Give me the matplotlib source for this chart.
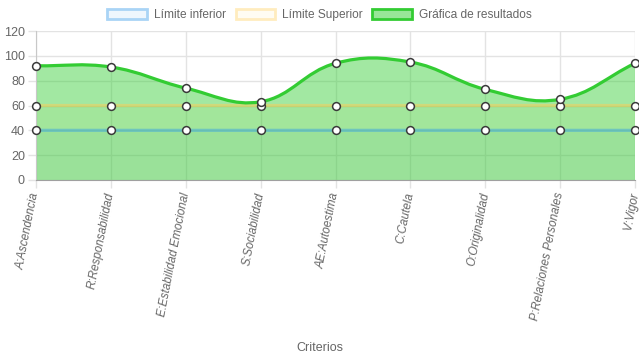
import numpy as np
import matplotlib.pyplot as plt
from matplotlib.path import Path
from matplotlib.patches import PathPatch, Patch

plt.rcParams['font.family'] = ['Liberation Sans', 'DejaVu Sans']

criterios = ["A:Ascendencia", "R:Responsabilidad", "E:Estabilidad Emocional",
             "S:Sociabilidad", "AE:Autoestima", "C:Cautela", "O:Originalidad",
             "P:Relaciones Personales", "V:Vigor"]
limite_inferior = [40, 40, 40, 40, 40, 40, 40, 40, 40]
limite_superior = [60, 60, 60, 60, 60, 60, 60, 60, 60]
resultados = [92, 91, 74, 63, 94, 95, 73, 65, 94]

TEXT = '#666666'


def spline_path(xs, ys, sx, sy, tension=0.4):
    """Chart.js style cubic bezier through the points (sx, sy = px per unit)."""
    px = np.asarray(xs, float) * sx
    py = np.asarray(ys, float) * sy
    n = len(px)
    cps = []
    for i in range(n):
        p = (px[max(i - 1, 0)], py[max(i - 1, 0)])
        c = (px[i], py[i])
        q = (px[min(i + 1, n - 1)], py[min(i + 1, n - 1)])
        d01 = np.hypot(c[0] - p[0], c[1] - p[1])
        d12 = np.hypot(q[0] - c[0], q[1] - c[1])
        tot = d01 + d12
        s01 = d01 / tot if tot else 0
        s12 = d12 / tot if tot else 0
        fa, fb = tension * s01, tension * s12
        prev_cp = (c[0] - fa * (q[0] - p[0]), c[1] - fa * (q[1] - p[1]))
        next_cp = (c[0] + fb * (q[0] - p[0]), c[1] + fb * (q[1] - p[1]))
        cps.append((prev_cp, next_cp))
    verts = [(px[0], py[0])]
    codes = [Path.MOVETO]
    for i in range(1, n):
        verts += [cps[i - 1][1], cps[i][0], (px[i], py[i])]
        codes += [Path.CURVE4] * 3
    verts = [(vx / sx, vy / sy) for vx, vy in verts]
    return verts, codes


fig = plt.figure(figsize=(6.39, 3.6), dpi=100)
ax = fig.add_axes([36 / 639, 0.5, 599 / 639, 149 / 360])
x = np.arange(len(criterios))
ax.set_xlim(0, len(criterios) - 1)
ax.set_ylim(0, 120)
sx, sy = 599 / 8, 149 / 120

series = [
    (limite_inferior, (54/255, 162/255, 235/255, 0.45), (54/255, 162/255, 235/255, 0.08)),
    (limite_superior, (255/255, 205/255, 86/255, 0.5), (255/255, 205/255, 86/255, 0.08)),
    (resultados, '#33cc33', (50/255, 205/255, 50/255, 0.45)),
]
for vals, line_c, fill_c in series:
    verts, codes = spline_path(x, vals, sx, sy)
    fill_verts = verts + [(x[-1], 0), (x[0], 0), verts[0]]
    fill_codes = codes + [Path.LINETO, Path.LINETO, Path.CLOSEPOLY]
    ax.add_patch(PathPatch(Path(fill_verts, fill_codes), facecolor=fill_c,
                           edgecolor='none', zorder=1))
for vals, line_c, fill_c in series:
    verts, codes = spline_path(x, vals, sx, sy)
    ax.add_patch(PathPatch(Path(verts, codes), facecolor='none',
                           edgecolor=line_c, lw=2.3, zorder=3,
                           capstyle='butt'))
for vals, line_c, fill_c in series:
    ax.plot(x, vals, ls='none', marker='o', ms=5.6, mfc='white',
            mec='#3a3a3a', mew=1.1, zorder=5, clip_on=False)

ax.set_yticks(np.arange(0, 121, 20))
ax.set_xticks(x)
ax.set_xticklabels(criterios, rotation=79, ha='right', va='center',
                   rotation_mode='anchor', style='italic', fontsize=8.4)
ax.grid(True, color='#e3e3e3', lw=1)
ax.set_axisbelow(True)
ax.tick_params(axis='both', colors='#e3e3e3', labelcolor=TEXT, labelsize=9,
               length=6, width=1)
ax.tick_params(axis='x', labelsize=8.4, pad=3)
ax.tick_params(axis='y', pad=2)
for side in ('top', 'right'):
    ax.spines[side].set_visible(False)
ax.spines['left'].set_color('#c8c8c8')
ax.spines['bottom'].set_color('#a0a0a0')
ax.spines['bottom'].set_zorder(6)

fig.text(0.5, 12 / 360, 'Criterios', ha='center', va='center',
         color=TEXT, fontsize=9)

handles = [
    Patch(facecolor='#eef6fd', edgecolor='#a9d4f6', lw=2),
    Patch(facecolor='#fffcf2', edgecolor='#ffecbe', lw=2),
    Patch(facecolor='#98e698', edgecolor='#33cc33', lw=2),
]
fig.legend(handles, ['Límite inferior', 'Límite Superior', 'Gráfica de resultados'],
           loc='center', bbox_to_anchor=(0.5, 1 - 15 / 360), ncol=3,
           frameon=False, fontsize=8.6, labelcolor=TEXT, handlelength=3.3,
           handleheight=1.0, handletextpad=0.6, columnspacing=0.8)

fig.savefig('out.png', dpi=100)
